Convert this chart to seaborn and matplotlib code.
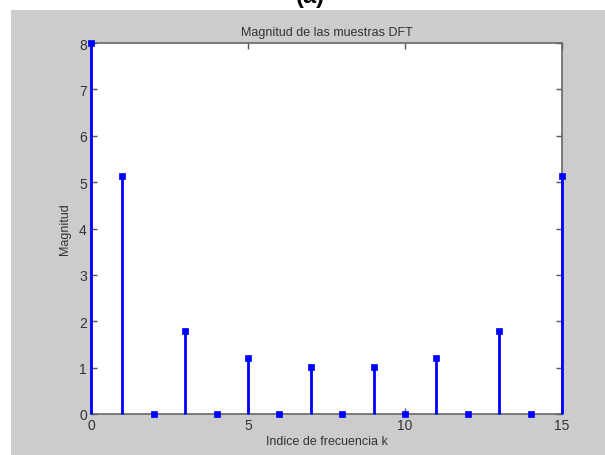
import numpy as np
import pandas as pd
import matplotlib
matplotlib.use("Agg")
import matplotlib.pyplot as plt
import seaborn as sns
from matplotlib.patches import Rectangle

# Data
k = list(range(16))
magnitud = [8.0, 5.13, 0.0, 1.80, 0.0, 1.20, 0.0, 1.02, 0.0, 1.02, 0.0, 1.20, 0.0, 1.80, 0.0, 5.13]
xticks = [0, 5, 10, 15]
yticks = [0, 1, 2, 3, 4, 5, 6, 7, 8]

df = pd.DataFrame({"k": k, "mag": magnitud})

sns.set_style("white")
plt.rcParams['font.family'] = ['Liberation Sans', 'DejaVu Sans']

W, H = 605, 456
fig = plt.figure(figsize=(W / 100, H / 100), dpi=100)
fig.patch.set_facecolor("#cccccc")
# white margins (left strip and top strip)
fig.patches.append(Rectangle((0, 0), 11 / W, 1, transform=fig.transFigure,
                             facecolor="white", edgecolor="none", zorder=-5))
fig.patches.append(Rectangle((0, 1 - 11 / H), 1, 11 / H, transform=fig.transFigure,
                             facecolor="white", edgecolor="none", zorder=-5))
fig.text(310 / W, 1.0 + 3 / H, "(a)", ha="center", va="center",
         fontsize=17, fontweight="bold", color="black", zorder=5)

ax = fig.add_axes([91 / W, 1 - 415 / H, 471 / W, 371 / H])
ax.set_facecolor("white")

ax.vlines(df["k"], 0, df["mag"], colors="#0000ff", linewidth=2.0, zorder=3, clip_on=False)
sns.scatterplot(data=df, x="k", y="mag", ax=ax, color="#0000ff", marker="s",
                s=16, edgecolor="#0000ff", linewidth=0.5, zorder=4, clip_on=False,
                legend=False)

ax.set_xlim(0, 15)
ax.set_ylim(0, 8)
ax.set_xticks(xticks)
ax.set_yticks(yticks)
ax.tick_params(direction="in", length=4, width=1, color="#555555",
               labelcolor="#333333", labelsize=10, top=True, right=True,
               bottom=True, left=True, pad=3)
for sp in ax.spines.values():
    sp.set_color("#666666")
    sp.set_linewidth(1.2)
    sp.set_visible(True)

ax.set_title("Magnitud de las muestras DFT", fontsize=9, color="#333333", pad=6)
ax.set_xlabel("Indice de frecuencia k", fontsize=9, color="#333333", labelpad=2)
ax.set_ylabel("Magnitud", fontsize=9, color="#333333", labelpad=6)

fig.savefig("out.png", dpi=100, facecolor=fig.get_facecolor())
